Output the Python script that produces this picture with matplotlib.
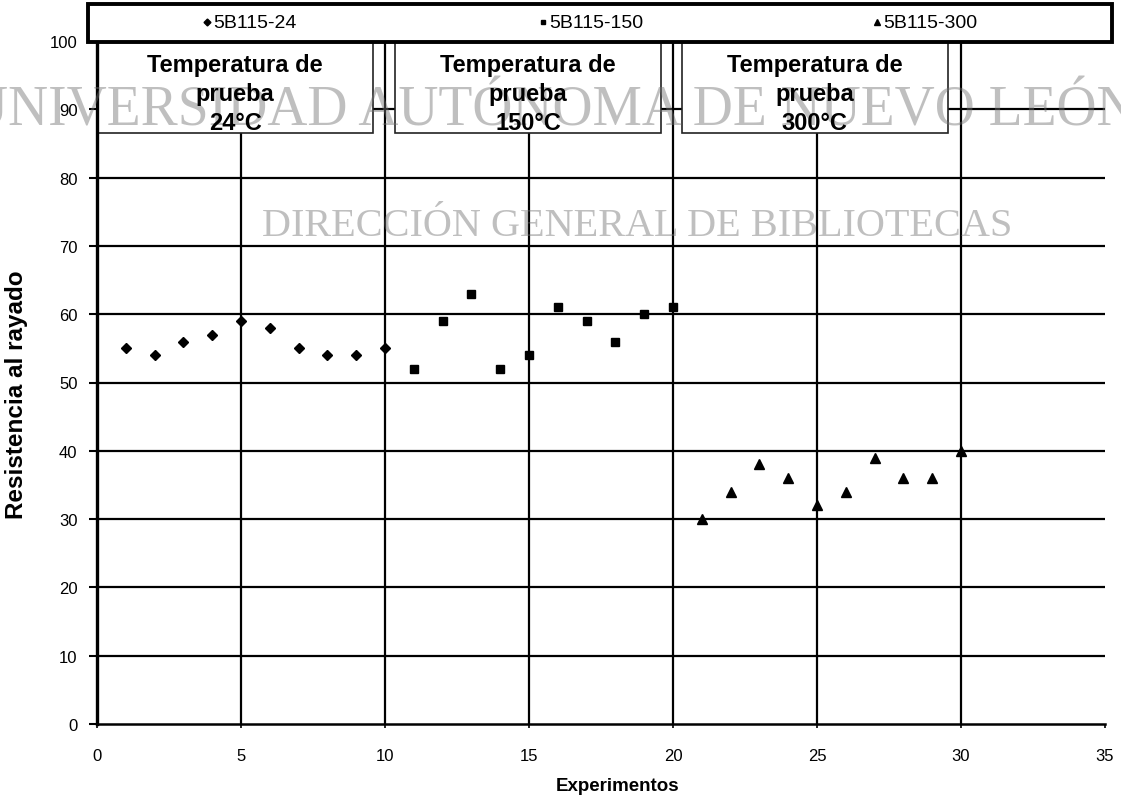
import matplotlib
matplotlib.use("Agg")
import matplotlib.pyplot as plt
from matplotlib.patches import Rectangle
from matplotlib.lines import Line2D

# ---- data ----
exp_24 = [1, 2, 3, 4, 5, 6, 7, 8, 9, 10]
res_24 = [55, 54, 56, 57, 59, 58, 55, 54, 54, 55]

exp_150 = [11, 12, 13, 14, 15, 16, 17, 18, 19, 20]
res_150 = [52, 59, 63, 52, 54, 61, 59, 56, 60, 61]

exp_300 = [21, 22, 23, 24, 25, 26, 27, 28, 29, 30]
res_300 = [30, 34, 38, 36, 32, 34, 39, 36, 36, 40]

series_names = ["5B115-24", "5B115-150", "5B115-300"]
panel_titles = ["Temperatura de\nprueba\n24°C",
                "Temperatura de\nprueba\n150°C",
                "Temperatura de\nprueba\n300°C"]
panel_spans = [(0.0, 9.6), (10.35, 19.6), (20.3, 29.55)]

x_ticks = [0, 5, 10, 15, 20, 25, 30, 35]
y_ticks = [0, 10, 20, 30, 40, 50, 60, 70, 80, 90, 100]

plt.rcParams["font.family"] = ["Liberation Sans", "DejaVu Sans"]

W, H = 1121, 803
fig = plt.figure(figsize=(W / 100, H / 100), dpi=100)
fig.patch.set_facecolor("white")

def fx(px):
    return px / W

def fy(py):
    return 1 - py / H

ax = fig.add_axes([fx(97), fy(725), fx(1105) - fx(97), fy(42) - fy(725)])
ax.set_xlim(0, 35)
ax.set_ylim(0, 100)
ax.set_facecolor("white")

# grid lines
for yv in y_ticks[1:-1]:
    ax.axhline(yv, color="black", lw=1.6, zorder=1)
for xv in x_ticks[1:-1]:
    ax.axvline(xv, color="black", lw=1.6, zorder=1)

for side in ("top", "right"):
    ax.spines[side].set_visible(False)
ax.spines["left"].set_linewidth(2.4)
ax.spines["bottom"].set_linewidth(1.8)

ax.set_xticks(x_ticks)
ax.set_yticks(y_ticks)
ax.tick_params(axis="y", direction="out", length=6, width=1.5, pad=8, labelsize=12)
ax.tick_params(axis="x", direction="out", length=3, width=1.2, pad=14, labelsize=12)

# temperature panels
for (x0, x1), title in zip(panel_spans, panel_titles):
    ax.add_patch(Rectangle((x0, 86.5), x1 - x0, 13.5, facecolor="white",
                           edgecolor="#222222", lw=1.2, zorder=2))
    ax.text((x0 + x1) / 2, 92.3, title, ha="center", va="center",
            fontsize=17, fontweight="bold", linespacing=1.35, zorder=6)

# scanned-document watermark
ax.text(fx(552), fy(125), "UNIVERSIDAD AUTÓNOMA DE NUEVO LEÓN",
        transform=fig.transFigure, ha="center", va="baseline",
        fontsize=40, family=["Liberation Serif", "DejaVu Serif"],
        color="0.45", alpha=0.45, clip_on=False, zorder=3)
ax.text(fx(637), fy(236), "DIRECCIÓN GENERAL DE BIBLIOTECAS",
        transform=fig.transFigure, ha="center", va="baseline",
        fontsize=29, family=["Liberation Serif", "DejaVu Serif"],
        color="0.45", alpha=0.45, clip_on=False, zorder=3)

# data series
ax.plot(exp_24, res_24, ls="none", marker="D", ms=5, color="black", zorder=7)
ax.plot(exp_150, res_150, ls="none", marker="s", ms=5.5, color="black", zorder=7)
ax.plot(exp_300, res_300, ls="none", marker="^", ms=6.5, color="black", zorder=7)

# legend strip across the top
fig.patches.append(Rectangle((fx(88), fy(43)), fx(1112) - fx(88), fy(5) - fy(43),
                             transform=fig.transFigure, facecolor="white",
                             edgecolor="black", lw=2.8, zorder=5))
legend_markers = ["D", "s", "^"]
legend_ms = [3.5, 3.5, 4]
legend_x = [207, 543, 877]
for name, mk, ms, lx in zip(series_names, legend_markers, legend_ms, legend_x):
    fig.lines.append(Line2D([fx(lx)], [fy(23)], transform=fig.transFigure,
                            marker=mk, ms=ms, color="black", ls="none", zorder=6))
    fig.text(fx(lx + 6), fy(23), name, ha="left", va="center",
             fontsize=14, zorder=6)

fig.text(fx(17), fy(395), "Resistencia al rayado", rotation=90,
         ha="center", va="center", fontsize=17.5, fontweight="bold")
fig.text(fx(618), fy(787), "Experimentos", ha="center", va="center",
         fontsize=13.5, fontweight="bold")

fig.savefig("out.png", dpi=100)
